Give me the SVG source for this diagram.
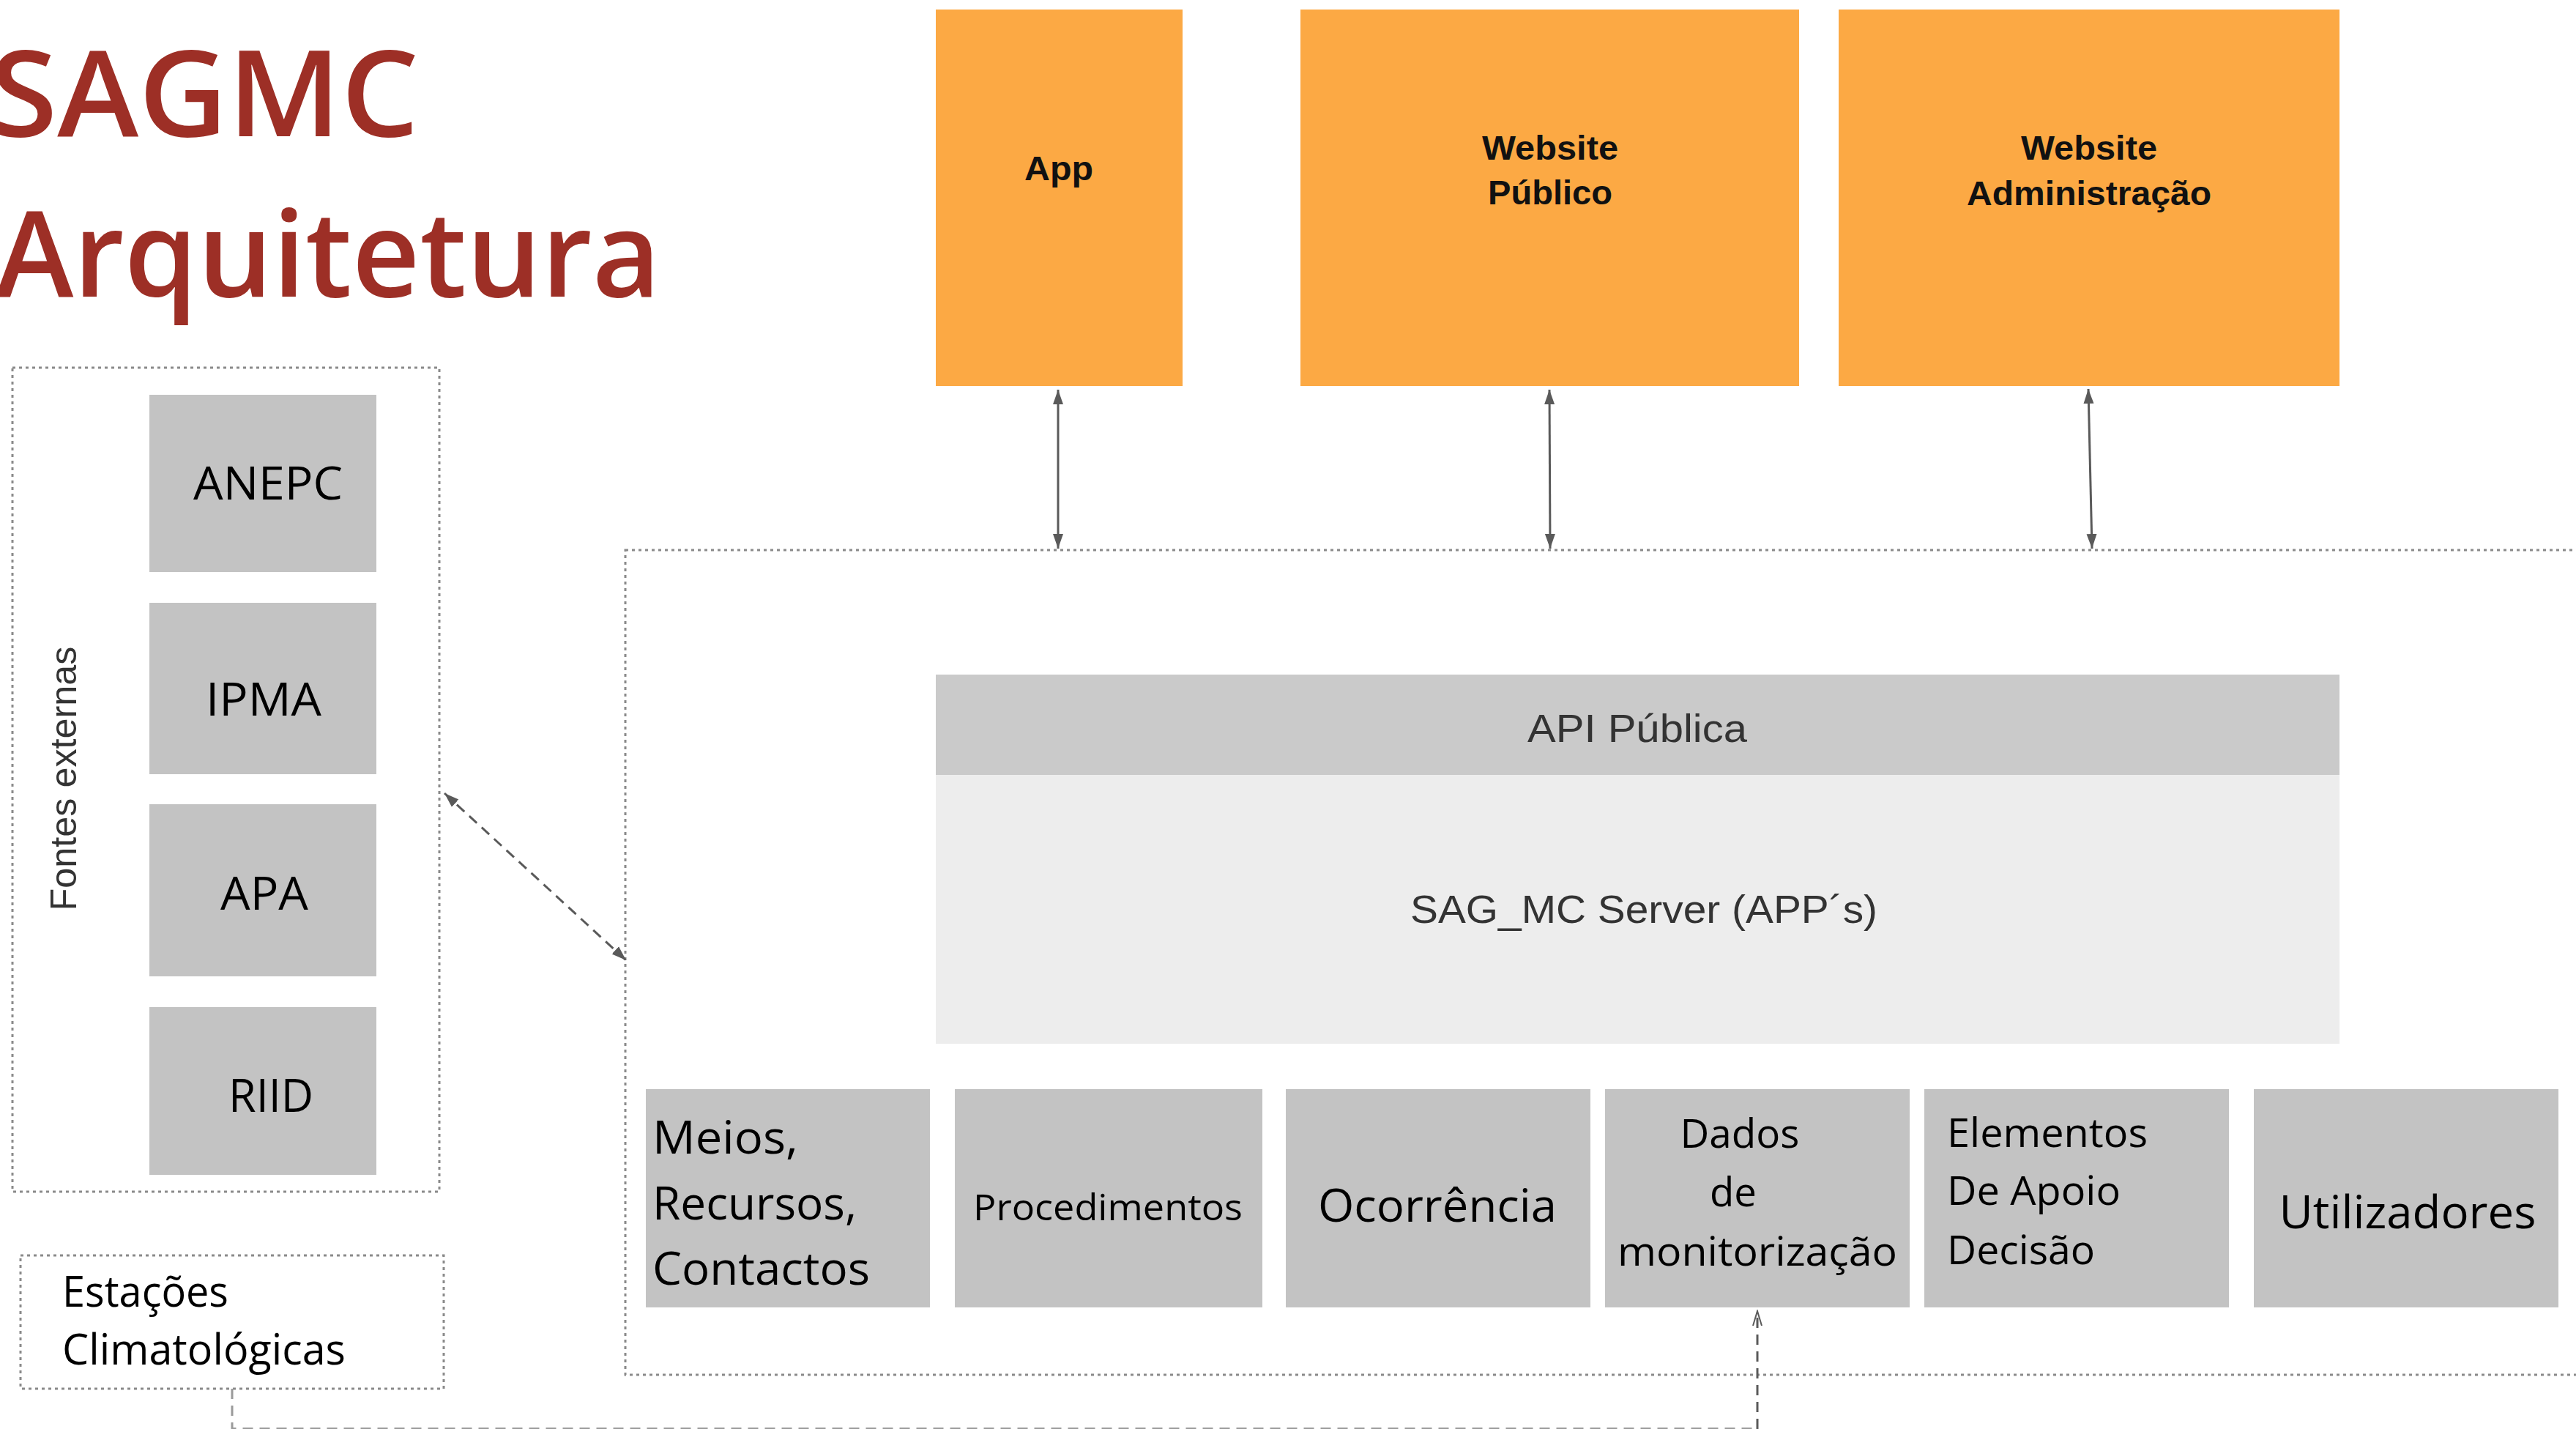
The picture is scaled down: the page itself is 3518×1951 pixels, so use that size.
<svg xmlns="http://www.w3.org/2000/svg" width="3518" height="1951" viewBox="0 0 3518 1951">
<style>
.title{font-family:"Open Sans","Liberation Sans",sans-serif;font-weight:600;font-size:163px;fill:#9d2f26}
.orange{fill:#fca944}
.olbl{font-family:"Liberation Sans",Arial,sans-serif;font-weight:bold;font-size:46px;fill:#111;text-anchor:middle}
.gray{fill:#c3c3c3}
.lbl{font-family:"Open Sans","Liberation Sans",sans-serif;fill:#000}
.c{text-anchor:middle}
.dotbox{fill:none;stroke:#8a8a8a;stroke-width:3;stroke-dasharray:4 5}
.api{font-family:"Liberation Sans",Arial,sans-serif;font-size:54px;fill:#333;text-anchor:middle}
.conn{fill:none;stroke:#5a5a5a;stroke-width:3}
.dash{fill:none;stroke:#5a5a5a;stroke-width:3;stroke-dasharray:14 9}
.dash2{fill:none;stroke:#9a9a9a;stroke-width:3;stroke-dasharray:14 9}
</style>
<defs>
<marker id="ah" markerUnits="userSpaceOnUse" markerWidth="22" markerHeight="16" refX="20" refY="8" orient="auto-start-reverse">
<path d="M0,1 L20,8 L0,15 z" fill="#5a5a5a"/>
</marker>
<marker id="ah2" markerUnits="userSpaceOnUse" markerWidth="22" markerHeight="16" refX="20" refY="8" orient="auto-start-reverse">
<path d="M0,2 L20,8 L0,14" fill="none" stroke="#5a5a5a" stroke-width="2"/>
</marker>
</defs>
<rect width="3518" height="1951" fill="#fff"/>

<g id="title">
<text class="title" x="-14" y="186" textLength="586" lengthAdjust="spacingAndGlyphs">SAGMC</text>
<text class="title" x="-6" y="405" textLength="908" lengthAdjust="spacingAndGlyphs">Arquitetura</text>
</g>

<g id="containers">
<rect id="main-container" class="dotbox" x="854" y="751" width="2700" height="1126"/>
<rect id="fontes-externas" class="dotbox" x="17" y="502" width="583" height="1125"/>
<text font-family="Liberation Sans, Arial, sans-serif" font-size="50" fill="#333" text-anchor="middle" transform="translate(104,1063) rotate(-90)" textLength="361" lengthAdjust="spacingAndGlyphs">Fontes externas</text>
</g>

<g id="app">
<rect class="orange" x="1278" y="13" width="337" height="514"/>
<text class="olbl" x="1446" y="246" textLength="94" lengthAdjust="spacingAndGlyphs">App</text>
</g>
<g id="website-publico">
<rect class="orange" x="1776" y="13" width="681" height="514"/>
<text class="olbl" x="2117" y="218" textLength="186" lengthAdjust="spacingAndGlyphs">Website</text>
<text class="olbl" x="2117" y="279" textLength="170" lengthAdjust="spacingAndGlyphs">Público</text>
</g>
<g id="website-admin">
<rect class="orange" x="2511" y="13" width="684" height="514"/>
<text class="olbl" x="2853" y="218" textLength="186" lengthAdjust="spacingAndGlyphs">Website</text>
<text class="olbl" x="2853" y="280" textLength="334" lengthAdjust="spacingAndGlyphs">Administração</text>
</g>

<g id="api-publica">
<rect x="1278" y="921" width="1917" height="137" fill="#cacaca"/>
<text class="api" x="2236" y="1013" textLength="300" lengthAdjust="spacingAndGlyphs">API Pública</text>
</g>
<g id="server">
<rect x="1278" y="1058" width="1917" height="367" fill="#ededed"/>
<text class="api" x="2245" y="1260" textLength="638" lengthAdjust="spacingAndGlyphs">SAG_MC Server (APP´s)</text>
</g>

<g id="anepc">
<rect class="gray" x="204" y="539" width="310" height="242"/>
<text class="lbl c" x="366" y="682" font-size="62" textLength="204" lengthAdjust="spacingAndGlyphs">ANEPC</text>
</g>
<g id="ipma">
<rect class="gray" x="204" y="823" width="310" height="234"/>
<text class="lbl c" x="360" y="977" font-size="62" textLength="158" lengthAdjust="spacingAndGlyphs">IPMA</text>
</g>
<g id="apa">
<rect class="gray" x="204" y="1098" width="310" height="235"/>
<text class="lbl c" x="361" y="1242" font-size="62" textLength="120" lengthAdjust="spacingAndGlyphs">APA</text>
</g>
<g id="riid">
<rect class="gray" x="204" y="1375" width="310" height="229"/>
<text class="lbl c" x="370" y="1518" font-size="62" textLength="116" lengthAdjust="spacingAndGlyphs">RIID</text>
</g>

<g id="estacoes">
<rect class="dotbox" x="28" y="1714" width="578" height="182"/>
<text class="lbl" x="85" y="1784" font-size="58" textLength="227" lengthAdjust="spacingAndGlyphs">Estações</text>
<text class="lbl" x="85" y="1863" font-size="58" textLength="387" lengthAdjust="spacingAndGlyphs">Climatológicas</text>
</g>

<g id="meios">
<rect class="gray" x="882" y="1487" width="388" height="298"/>
<text class="lbl" x="891" y="1575" font-size="63" textLength="199" lengthAdjust="spacingAndGlyphs">Meios,</text>
<text class="lbl" x="891" y="1665" font-size="63" textLength="279" lengthAdjust="spacingAndGlyphs">Recursos,</text>
<text class="lbl" x="891" y="1754" font-size="63" textLength="297" lengthAdjust="spacingAndGlyphs">Contactos</text>
</g>
<g id="procedimentos">
<rect class="gray" x="1304" y="1487" width="420" height="298"/>
<text class="lbl c" x="1513" y="1666" font-size="50" textLength="368" lengthAdjust="spacingAndGlyphs">Procedimentos</text>
</g>
<g id="ocorrencia">
<rect class="gray" x="1756" y="1487" width="416" height="298"/>
<text class="lbl c" x="1963" y="1668" font-size="63" textLength="326" lengthAdjust="spacingAndGlyphs">Ocorrência</text>
</g>
<g id="dados">
<rect class="gray" x="2192" y="1487" width="416" height="298"/>
<text class="lbl c" x="2376" y="1567" font-size="54" textLength="163" lengthAdjust="spacingAndGlyphs">Dados</text>
<text class="lbl c" x="2367" y="1647" font-size="54" textLength="64" lengthAdjust="spacingAndGlyphs">de</text>
<text class="lbl c" x="2400" y="1728" font-size="54" textLength="382" lengthAdjust="spacingAndGlyphs">monitorização</text>
</g>
<g id="elementos">
<rect class="gray" x="2628" y="1487" width="416" height="298"/>
<text class="lbl" x="2659" y="1566" font-size="54" textLength="274" lengthAdjust="spacingAndGlyphs">Elementos</text>
<text class="lbl" x="2659" y="1645" font-size="54" textLength="237" lengthAdjust="spacingAndGlyphs">De Apoio</text>
<text class="lbl" x="2659" y="1726" font-size="54" textLength="202" lengthAdjust="spacingAndGlyphs">Decisão</text>
</g>
<g id="utilizadores">
<rect class="gray" x="3078" y="1487" width="416" height="298"/>
<text class="lbl c" x="3288" y="1677" font-size="63" textLength="351" lengthAdjust="spacingAndGlyphs">Utilizadores</text>
</g>

<g id="connectors">
<line class="conn" x1="1445" y1="532" x2="1445" y2="749" marker-start="url(#ah)" marker-end="url(#ah)"/>
<line class="conn" x1="2116" y1="532" x2="2117" y2="749" marker-start="url(#ah)" marker-end="url(#ah)"/>
<line class="conn" x1="2852" y1="531" x2="2857" y2="749" marker-start="url(#ah)" marker-end="url(#ah)"/>
<line class="dash" x1="607" y1="1083" x2="855" y2="1311" marker-start="url(#ah)" marker-end="url(#ah)"/>
<path class="dash2" d="M317,1896 V1950.5 H2400"/>
<path class="dash" d="M2400,1951 V1790" marker-end="url(#ah2)"/>
</g>
</svg>
